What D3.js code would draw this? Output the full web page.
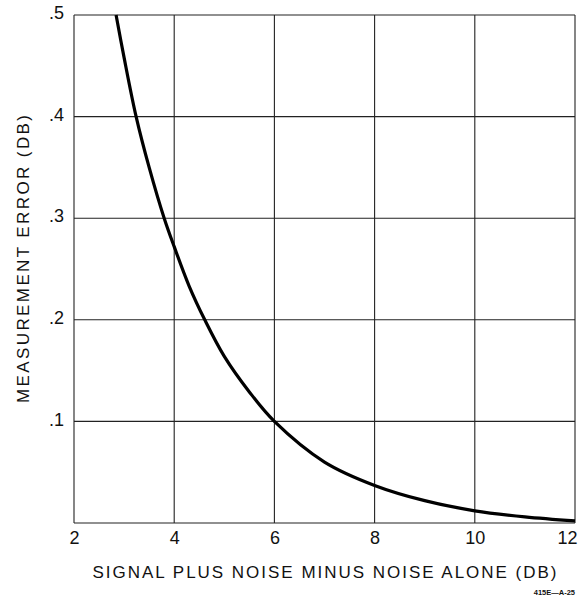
<!DOCTYPE html>
<html>
<head>
<meta charset="utf-8">
<script src="https://cdn.jsdelivr.net/npm/d3@7"></script>
<style>
  body { margin: 0; background: #fff; }
  svg text { font-family: "Liberation Sans", Arial, sans-serif; fill: #111; }
</style>
</head>
<body>
<svg id="svg" width="583" height="599"></svg>
<script>
// values
const snr = [2.84, 3.0, 3.24, 3.5, 3.8, 4.0, 4.3, 4.61, 5.0, 5.5, 6.0, 7.0, 8.0, 9.0, 10.0, 11.0, 12.0]
const error = [0.5, 0.458, 0.4, 0.35, 0.3, 0.272, 0.233, 0.2, 0.164, 0.129, 0.1, 0.06, 0.037, 0.022, 0.012, 0.006, 0.002]
const xTicks = [2, 4, 6, 8, 10, 12]
const yTicks = [0.1, 0.2, 0.3, 0.4, 0.5]
const yTickLabels = ['.1', '.2', '.3', '.4', '.5']

const margin = { top: 15, right: 8, bottom: 76, left: 74 }
const width = 583
const height = 599

const xScale = d3.scaleLinear()
  .domain([2, 12])
  .range([margin.left, width - margin.right])

const yScale = d3.scaleLinear()
  .domain([0, 0.5])
  .range([height - margin.bottom, margin.top])

const svg = d3.select('#svg')

// grid
const grid = svg.append('g').attr('stroke', '#222').attr('stroke-width', 1.1)
grid.selectAll('line.v')
  .data(xTicks)
  .enter()
  .append('line')
  .attr('x1', d => xScale(d))
  .attr('x2', d => xScale(d))
  .attr('y1', yScale(0))
  .attr('y2', yScale(0.5))
grid.selectAll('line.h')
  .data([0].concat(yTicks))
  .enter()
  .append('line')
  .attr('x1', xScale(2))
  .attr('x2', xScale(12))
  .attr('y1', d => yScale(d))
  .attr('y2', d => yScale(d))

// x axis labels
const xAxis = d3.axisBottom(xScale)
  .tickValues(xTicks)
  .tickSize(0)
  .tickPadding(8)
svg.append('g')
  .attr('transform', `translate(0, ${yScale(0)})`)
  .call(xAxis)
  .call(g => g.select('.domain').remove())
  .call(g => g.selectAll('text')
    .attr('font-size', 18)
    .attr('font-family', '"Liberation Sans", Arial, sans-serif')
    .attr('fill', '#111')
    .attr('text-anchor', d => d === 12 ? 'end' : 'middle')
    .attr('dx', d => d === 12 ? 2 : 0))

// y axis labels
const yAxis = d3.axisLeft(yScale)
  .tickValues(yTicks)
  .tickFormat((d, i) => yTickLabels[i])
  .tickSize(0)
  .tickPadding(10)
svg.append('g')
  .attr('transform', `translate(${margin.left}, 0)`)
  .call(yAxis)
  .call(g => g.select('.domain').remove())
  .call(g => g.selectAll('text')
    .attr('font-size', 18)
    .attr('dy', '0.2em')
    .attr('font-family', '"Liberation Sans", Arial, sans-serif')
    .attr('fill', '#111'))

// curve
const line = d3.line()
  .x((d, i) => xScale(snr[i]))
  .y(d => yScale(d))
  .curve(d3.curveCatmullRom.alpha(0.5))

svg.append('path')
  .datum(error)
  .attr('fill', 'none')
  .attr('stroke', '#000')
  .attr('stroke-width', 3.2)
  .attr('d', line)

// titles
svg.append('text')
  .attr('x', xScale(7))
  .attr('y', 578)
  .attr('text-anchor', 'middle')
  .attr('font-size', 17)
  .attr('textLength', 464)
  .attr('lengthAdjust', 'spacing')
  .text('SIGNAL PLUS NOISE MINUS NOISE ALONE (DB)')

svg.append('text')
  .attr('transform', 'translate(29, 259) rotate(-90)')
  .attr('text-anchor', 'middle')
  .attr('font-size', 17)
  .attr('textLength', 288)
  .attr('lengthAdjust', 'spacing')
  .text('MEASUREMENT ERROR (DB)')

svg.append('text')
  .attr('x', 575)
  .attr('y', 595)
  .attr('text-anchor', 'end')
  .attr('font-size', 7.5)
  .attr('font-weight', 'bold')
  .text('415E—A-25')
</script>
</body>
</html>
